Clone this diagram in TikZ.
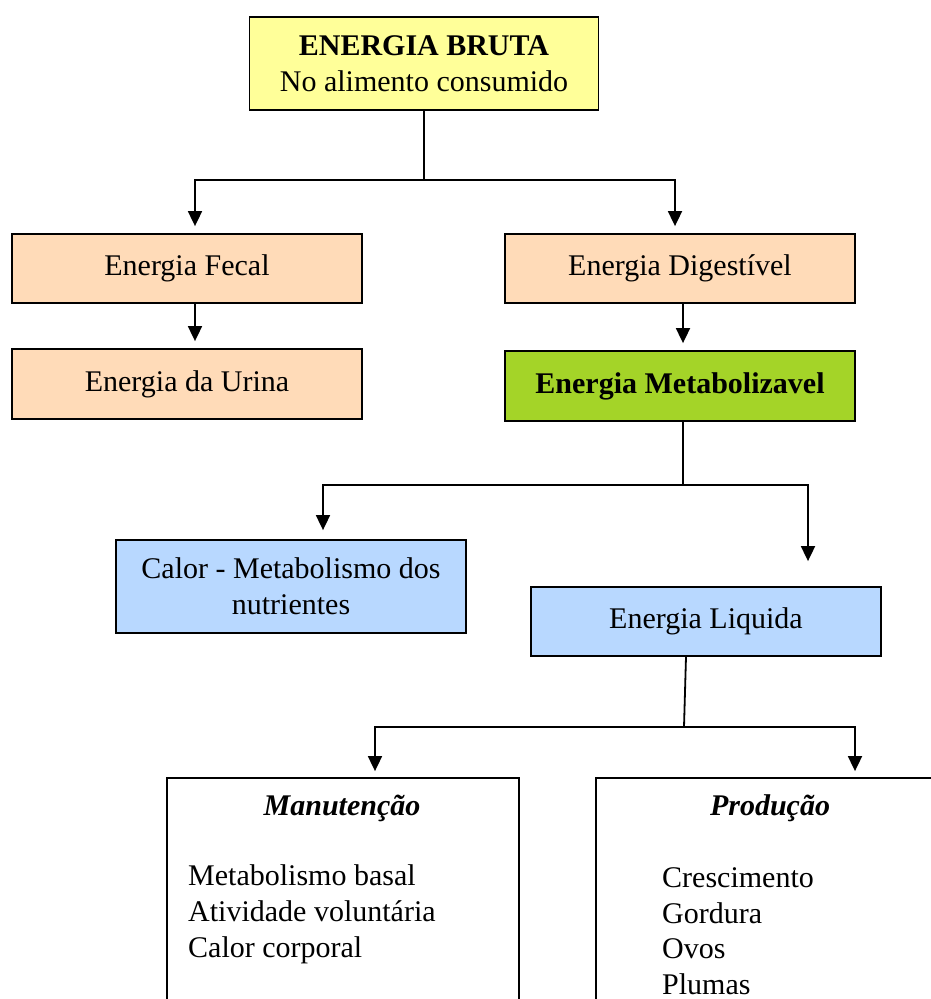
\documentclass[tikz,border=0pt]{standalone}
\usepackage{fontspec}
\setmainfont{Liberation Serif}
\usetikzlibrary{arrows.meta}
\definecolor{ebyellow}{RGB}{255,255,153}
\definecolor{peach}{RGB}{255,219,184}
\definecolor{megreen}{RGB}{164,212,40}
\definecolor{liqblue}{RGB}{184,216,255}
\tikzset{
  box/.style={draw, line width=1.8pt, inner sep=0pt, align=center,
    font=\fontsize{30}{36}\selectfont},
  txt/.style={inner sep=0pt, font=\fontsize{30}{36}\selectfont},
  conn/.style={line width=1.8pt},
  arr/.style={line width=1.8pt, -{Triangle[width=14pt,length=15pt]}},
}
\begin{document}
\begin{tikzpicture}[x=1pt,y=-1pt]
\useasboundingbox (0,0) rectangle (931,999);
\clip (0,0) rectangle (931,999);

% boxes
\node[box, fill=ebyellow, minimum width=349pt, minimum height=93pt] (eb) at (424,63.5)
  {\textbf{ENERGIA BRUTA}\\No alimento consumido};
\node[box, fill=peach, minimum width=350pt, minimum height=69pt] (ef) at (187,268.5) {Energia Fecal};
\node[box, fill=peach, minimum width=350pt, minimum height=69pt] (ed) at (680,268.5) {Energia Digestível};
\node[box, fill=peach, minimum width=350pt, minimum height=70pt] (ur) at (187,384) {Energia da Urina};
\node[box, fill=megreen, minimum width=350pt, minimum height=70pt] (me) at (680,386) {\textbf{Energia Metabolizavel}};
\node[box, fill=liqblue, minimum width=350pt, minimum height=93pt] (cal) at (291,586.5)
  {Calor - Metabolismo dos\\nutrientes};
\node[box, fill=liqblue, minimum width=350pt, minimum height=69pt] (el) at (706,621.5) {Energia Liquida};
\node[box, minimum width=352pt, minimum height=240pt] (mt) at (343,898) {};
\node[box, minimum width=380pt, minimum height=240pt] (pr) at (786,898) {};

% texts in the bottom boxes
\node[txt] (mtt) at (342,808) {\textbf{\textit{Manutenção}}};
\node[txt, anchor=west, align=left] (mtl) at (188,914)
  {Metabolismo basal\\Atividade voluntária\\Calor corporal};
\node[txt] (prt) at (770,808) {\textbf{\textit{Produção}}};
\node[txt, anchor=west, align=left, font=\fontsize{30}{35.5}\selectfont] (prl) at (662,931)
  {Crescimento\\Gordura\\Ovos\\Plumas};

% connectors
\coordinate (j1) at (eb.south |- 0,180);
\draw[conn] (eb.south) -- (j1);
\draw[arr] (j1) -| ([xshift=8pt,yshift=7pt]ef.north);
\draw[arr] (j1) -| ([xshift=-5pt,yshift=7pt]ed.north);

\draw[arr] ([xshift=8pt]ef.south) -- ([xshift=8pt,yshift=7pt]ur.north);
\draw[arr] ([xshift=3pt]ed.south) -- ([xshift=3pt,yshift=7pt]me.north);

\coordinate (j2) at ([xshift=3pt]me.south |- 0,485);
\draw[conn] ([xshift=3pt]me.south) -- (j2);
\draw[arr] (j2) -| ([xshift=32pt,yshift=9pt]cal.north);
\draw[arr] (j2) -| ([xshift=102pt,yshift=25pt]el.north);

\coordinate (j3) at (684,727);
\draw[conn] ([xshift=-20pt]el.south) -- (j3);
\draw[arr] (j3) -| ([xshift=32pt,yshift=6pt]mt.north);
\draw[arr] (j3) -| ([xshift=69pt,yshift=6pt]pr.north);
\end{tikzpicture}
\end{document}
